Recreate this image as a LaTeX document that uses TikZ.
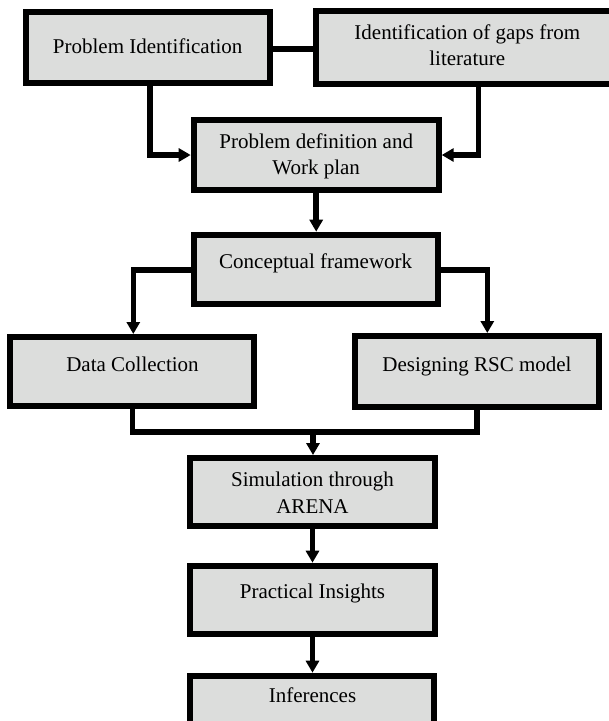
\documentclass[tikz,border=0pt]{standalone}
\usepackage{fontspec}
\setmainfont{Liberation Serif}
\usetikzlibrary{arrows.meta}
\definecolor{boxgray}{RGB}{220,221,220}
\begin{document}
\begin{tikzpicture}[x=1pt,y=-1pt,
  stage/.style={draw=black, fill=boxgray, line width=6pt, rectangle, inner sep=0pt,
                minimum width=244pt, minimum height=69pt},
  txt/.style={font=\fontsize{21}{26}\selectfont, inner sep=0pt, anchor=base},
  link/.style={line width=5.5pt, line join=miter},
  arr/.style={link, -{Triangle[length=12pt,width=13pt]}}]
\useasboundingbox (0,0) rectangle (609,721);

% process boxes
\node[stage, minimum height=70.7pt] (b1) at (147.7,47.65) {};
\node[stage, minimum width=303.3pt, minimum height=73pt] (b2) at (467.3,47.8) {};
\node[stage, minimum width=245pt, minimum height=69.4pt] (b3) at (316.2,155) {};
\node[stage] (b4) at (315.7,269.2) {};
\node[stage, minimum width=243.4pt] (b5) at (132,371.5) {};
\node[stage, minimum width=244.3pt, minimum height=71pt] (b6) at (476.9,371.5) {};
\node[stage, minimum width=244.4pt, minimum height=68.3pt] (b7) at (312.5,492.2) {};
\node[stage, minimum width=244.4pt, minimum height=68.6pt] (b8) at (312.5,600) {};
\node[stage, minimum height=68.6pt] (b9) at (312.3,710) {};

% box texts
\node[txt] (t1) at (147.7,53.3) {Problem Identification};
\node[txt] (t2a) at (467.3,39.3) {Identification of gaps from};
\node[txt] (t2b) at (467.3,65.5) {literature};
\node[txt] (t3a) at (316.2,148.3) {Problem definition and};
\node[txt] (t3b) at (316.2,174) {Work plan};
\node[txt] (t4) at (315.7,268.3) {Conceptual framework};
\node[txt] (t5) at (132.5,371) {Data Collection};
\node[txt] (t6) at (477,371.5) {Designing RSC model};
\node[txt] (t7a) at (312.5,486) {Simulation through};
\node[txt] (t7b) at (312.5,513.3) {ARENA};
\node[txt] (t8) at (312.5,598.3) {Practical Insights};
\node[txt] (t9) at (312.5,702.7) {Inferences};

% connectors
\draw[link] ([yshift=-1.3pt]b1.east) -- ([yshift=-1.3pt]b1.east -| b2.west);
\draw[arr] ([xshift=2.3pt]b1.south) |- (b3.west);
\draw[arr] ([xshift=11pt]b2.south) |- (b3.east);
\draw[arr] (b3.south) -- (b3.south |- b4.north);
\draw[arr] ([yshift=-0.8pt]b4.west) -| ([xshift=1.3pt]b5.north);
\draw[arr] ([yshift=-0.8pt]b4.east) -| ([xshift=10.4pt]b6.north);
\coordinate (jn) at (313,432);
\draw[link] ([xshift=0.7pt]b5.south) |- (b6.south |- jn) -- (b6.south);
\draw[arr] (jn) -- (jn |- b7.north);
\draw[arr] (b7.south) -- (b7.south |- b8.north);
\draw[arr] (b8.south) -- (b8.south |- b9.north);
\end{tikzpicture}
\end{document}
